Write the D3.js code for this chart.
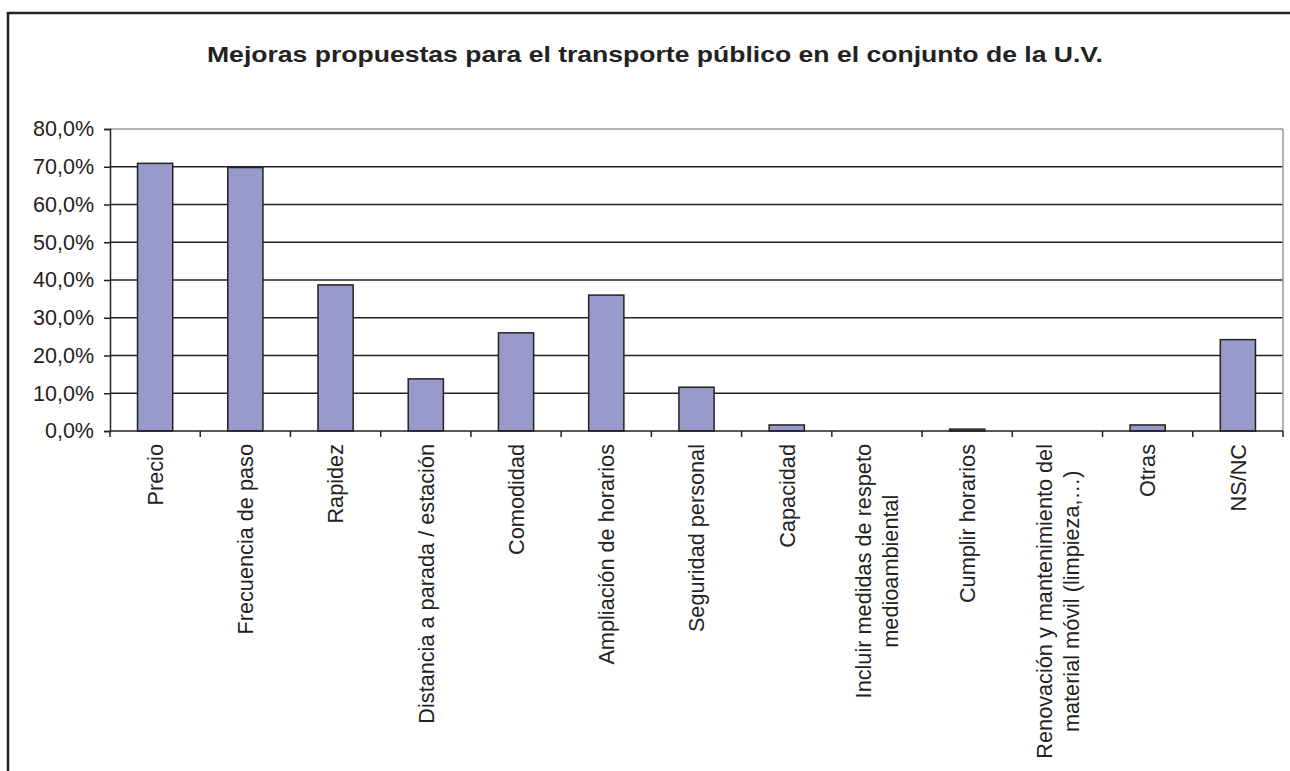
<!DOCTYPE html>
<html>
<head>
<meta charset="utf-8">
<script src="https://cdn.jsdelivr.net/npm/d3@7"></script>
<style>
  body { margin: 0; background: #fff; }
  text { font-family: Arial, "Liberation Sans", sans-serif; fill: #222; }
</style>
</head>
<body>
<div id="chart"></div>
<script>
var width = 1290,
    height = 771;

// data
var categories = [
  ["Precio"],
  ["Frecuencia de paso"],
  ["Rapidez"],
  ["Distancia a parada / estación"],
  ["Comodidad"],
  ["Ampliación de horarios"],
  ["Seguridad personal"],
  ["Capacidad"],
  ["Incluir medidas de respeto", "medioambiental"],
  ["Cumplir horarios"],
  ["Renovación y mantenimiento del", "material móvil (limpieza,…)"],
  ["Otras"],
  ["NS/NC"]
];
var values = [70.9, 69.8, 38.7, 13.8, 26.0, 36.0, 11.6, 1.6, 0, 0.5, 0, 1.6, 24.2];
var yTicks = [0, 10, 20, 30, 40, 50, 60, 70, 80];
var title = "Mejoras propuestas para el transporte público en el conjunto de la U.V.";

var plot = {left: 110, right: 1283, top: 129, bottom: 431};

var svg = d3.select("#chart")
    .append("svg")
    .attr("width", width)
    .attr("height", height);

// outer frame
svg.append("rect")
    .attr("x", 8).attr("y", 13)
    .attr("width", width + 20).attr("height", height + 20)
    .attr("fill", "none")
    .attr("stroke", "#222")
    .attr("stroke-width", 2.5);

svg.append("text")
    .attr("x", 655)
    .attr("y", 62)
    .attr("text-anchor", "middle")
    .attr("textLength", 896)
    .attr("lengthAdjust", "spacingAndGlyphs")
    .style("font-size", "22px")
    .style("font-weight", "bold")
    .text(title);

var x = d3.scaleBand()
    .domain(d3.range(categories.length))
    .range([plot.left, plot.right])
    .padding(0);

var y = d3.scaleLinear()
    .domain([0, 80])
    .range([plot.bottom, plot.top]);

// gridlines
svg.append("g")
    .selectAll("line")
    .data(yTicks.filter(function(d) { return d > 0; }))
    .enter().append("line")
    .attr("x1", plot.left)
    .attr("x2", plot.right)
    .attr("y1", function(d) { return y(d); })
    .attr("y2", function(d) { return y(d); })
    .attr("stroke", function(d) { return d === 80 ? "#999" : "#222"; })
    .attr("stroke-width", 1.5);

// right border of plot area
svg.append("line")
    .attr("x1", plot.right).attr("x2", plot.right)
    .attr("y1", y(80)).attr("y2", y(0))
    .attr("stroke", "#999")
    .attr("stroke-width", 1.5);

// bars (zero values draw nothing)
var barW = x.bandwidth() * 0.39;
var barData = values.map(function(v, i) { return {i: i, v: v}; })
    .filter(function(d) { return d.v > 0; });
svg.append("g")
    .selectAll("rect")
    .data(barData)
    .enter().append("rect")
    .attr("x", function(d) { return x(d.i) + (x.bandwidth() - barW) / 2; })
    .attr("y", function(d) { return y(d.v); })
    .attr("width", barW)
    .attr("height", function(d) { return y(0) - y(d.v); })
    .attr("fill", "#9999cc")
    .attr("stroke", "#222")
    .attr("stroke-width", 1.5);

// y axis
var yAxis = svg.append("g")
    .attr("transform", "translate(" + plot.left + ",0)")
    .call(d3.axisLeft(y)
      .tickValues(yTicks)
      .tickSize(6)
      .tickPadding(10)
      .tickFormat(function(d) { return d3.format(".1f")(d).replace(".", ",") + "%"; }));
yAxis.select(".domain").attr("stroke", "#222").attr("stroke-width", 1.5);
yAxis.selectAll(".tick line").attr("stroke", "#222").attr("stroke-width", 1.5);
yAxis.selectAll(".tick text")
    .attr("fill", "#222")
    .style("font-family", "Arial, 'Liberation Sans', sans-serif")
    .style("font-size", "21.5px");

// x axis baseline and ticks at category boundaries
svg.append("line")
    .attr("x1", plot.left).attr("x2", plot.right)
    .attr("y1", y(0)).attr("y2", y(0))
    .attr("stroke", "#222")
    .attr("stroke-width", 1.5);
svg.append("g")
    .selectAll("line")
    .data(d3.range(categories.length + 1))
    .enter().append("line")
    .attr("x1", function(i) { return i < categories.length ? x(i) : plot.right; })
    .attr("x2", function(i) { return i < categories.length ? x(i) : plot.right; })
    .attr("y1", y(0))
    .attr("y2", y(0) + 6)
    .attr("stroke", "#222")
    .attr("stroke-width", 1.5);

// category labels, rotated
var labelTop = 444, lineH = 27, fs = 21.7;
var labels = svg.append("g")
    .selectAll("g")
    .data(categories)
    .enter().append("g");

labels.each(function(lines, i) {
  var g = d3.select(this);
  var cx = x(i) + x.bandwidth() / 2;
  var n = lines.length;
  var texts = lines.map(function(line, k) {
    var off = (k - (n - 1) / 2) * lineH + fs * 0.36;
    return g.append("text")
      .style("font-size", fs + "px")
      .attr("text-anchor", "middle")
      .attr("data-off", off)
      .text(line);
  });
  var maxLen = d3.max(texts, function(t) { return t.node().getComputedTextLength(); });
  var cy = labelTop + maxLen / 2;
  texts.forEach(function(t) {
    var tx = cx + (+t.attr("data-off"));
    t.attr("transform", "translate(" + tx + "," + cy + ") rotate(-90)");
  });
});
</script>
</body>
</html>
